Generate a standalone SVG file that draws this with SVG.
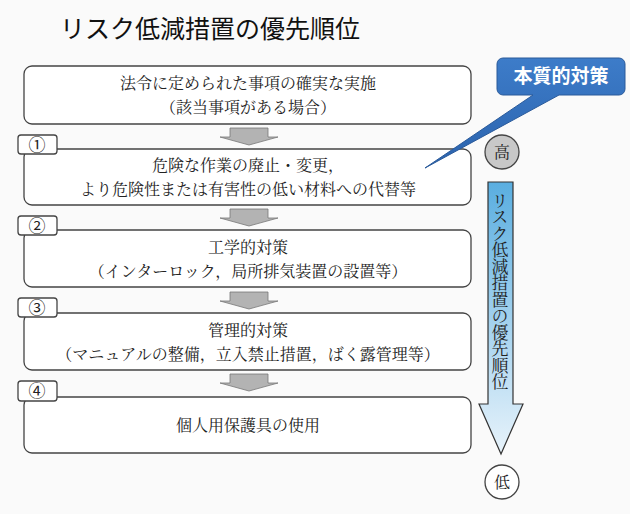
<svg xmlns="http://www.w3.org/2000/svg" width="630" height="514" viewBox="0 0 630 514">
<defs>
<style>
.box{fill:#fff;stroke:#444;stroke-width:1.3}
.t{font-family:"Noto Serif CJK JP","Noto Sans CJK JP",serif;font-size:16px;fill:#222;text-anchor:middle}
.num{font-family:"Noto Sans CJK JP",sans-serif;font-size:17px;fill:#222;text-anchor:middle}
.dn{fill:#b3b3b3;stroke:#777;stroke-width:0.8}
</style>
<linearGradient id="g" x1="0" y1="0" x2="0" y2="1"><stop offset="0" stop-color="#5aaee0"/><stop offset="1" stop-color="#e8f3fb"/></linearGradient>
<linearGradient id="cb" x1="0" y1="0" x2="0" y2="1"><stop offset="0" stop-color="#3d7cc9"/><stop offset="1" stop-color="#2b63ad"/></linearGradient>
</defs>
<rect width="630" height="514" fill="#fafafa"/>
<text x="60" y="38" font-family="'Noto Sans CJK JP',sans-serif" font-size="25" fill="#111">リスク低減措置の優先順位</text>
<g id="connectors">
<path class="dn" d="M230 128h38v9h10l-29 8l-29-8h10z"/>
<path class="dn" d="M230 209h38v9h10l-29 8l-29-8h10z"/>
<path class="dn" d="M230 292h38v9h10l-29 8l-29-8h10z"/>
<path class="dn" d="M230 374h38v9h10l-29 8l-29-8h10z"/>
</g>
<g id="n0"><rect class="box" x="24" y="66" width="447" height="58" rx="8"/>
<text class="t" x="248" y="89">法令に定められた事項の確実な実施</text><text class="t" x="248" y="113">（該当事項がある場合）</text></g>
<g id="n1"><rect class="box" x="24" y="149" width="447" height="56" rx="8"/>
<text class="t" x="248" y="171">危険な作業の廃止・変更，</text><text class="t" x="248" y="195">より危険性または有害性の低い材料への代替等</text>
<rect class="box" x="18" y="135" width="39" height="19" rx="3"/><text class="num" x="37" y="151">①</text></g>
<g id="n2"><rect class="box" x="24" y="230" width="447" height="57" rx="8"/>
<text class="t" x="248" y="253">工学的対策</text><text class="t" x="248" y="277">（インターロック，局所排気装置の設置等）</text>
<rect class="box" x="18" y="216" width="39" height="19" rx="3"/><text class="num" x="37" y="232">②</text></g>
<g id="n3"><rect class="box" x="24" y="313" width="447" height="57" rx="8"/>
<text class="t" x="248" y="336">管理的対策</text><text class="t" x="248" y="360">（マニュアルの整備，立入禁止措置，ばく露管理等）</text>
<rect class="box" x="18" y="298" width="39" height="19" rx="3"/><text class="num" x="37" y="314">③</text></g>
<g id="n4"><rect class="box" x="24" y="397" width="447" height="56" rx="8"/>
<text class="t" x="248" y="431">個人用保護具の使用</text>
<rect class="box" x="18" y="381" width="39" height="20" rx="3"/><text class="num" x="37" y="397">④</text></g>
<g id="callout">
<path d="M503 58h116a6 6 0 0 1 6 6v25a6 6 0 0 1-6 6h-60l-134 73l108-73h-30a6 6 0 0 1-6-6v-25a6 6 0 0 1 6-6z" fill="url(#cb)" stroke="#2a5a9a"/>
<text x="561" y="83" font-family="'Noto Sans CJK JP',sans-serif" font-weight="bold" font-size="19" fill="#fff" text-anchor="middle">本質的対策</text>
</g>
<g id="high"><circle cx="502" cy="152" r="17" fill="#c8c8c8" stroke="#444" stroke-width="1.3"/><text class="t" x="502" y="158">高</text></g>
<g id="priority">
<path d="M488 182h25v222h10l-22 50l-22-50h9z" fill="url(#g)" stroke="#333" stroke-width="1.2"/>
<text font-family="'Noto Serif CJK JP','Noto Sans CJK JP',serif" font-size="17" fill="#222" x="500" y="192" style="writing-mode:vertical-rl" letter-spacing="-0.5">リスク低減措置の優先順位</text>
</g>
<g id="low"><circle cx="502" cy="482" r="17" fill="#fff" stroke="#444" stroke-width="1.3"/><text class="t" x="502" y="488">低</text></g>
</svg>
